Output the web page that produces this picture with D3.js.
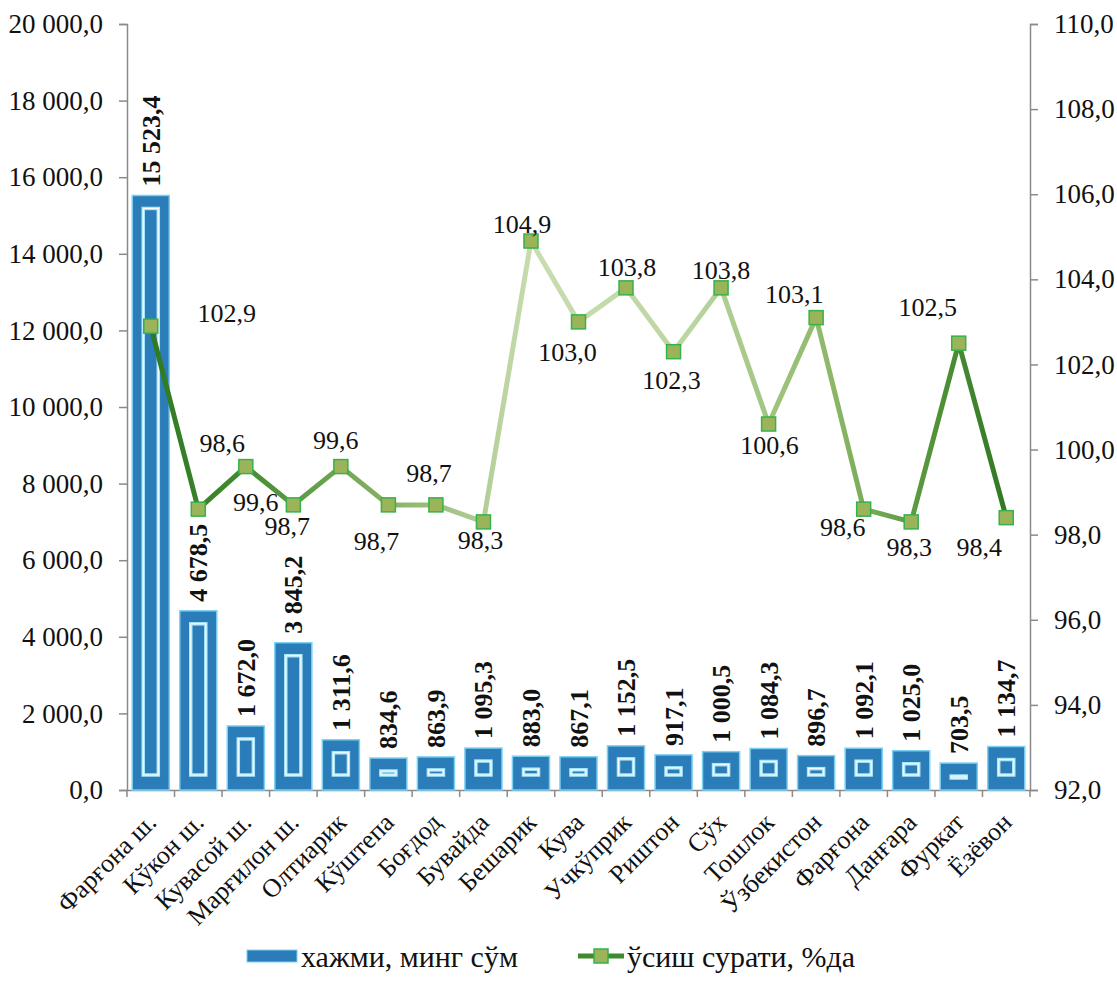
<!DOCTYPE html>
<html>
<head>
<meta charset="utf-8">
<script src="https://cdn.jsdelivr.net/npm/d3@7"></script>
</head>
<body>
<script>
// categories (districts) and the two series
const categories = ["Фарғона ш.", "Кўкон ш.", "Кувасой ш.", "Марғилон ш.", "Олтиарик", "Кўштепа",
  "Боғдод", "Бувайда", "Бешарик", "Кува", "Учкўприк", "Риштон", "Сўх", "Тошлок",
  "Ўзбекистон", "Фарғона", "Данғара", "Фуркат", "Ёзёвон"];
const volume = [15523.4, 4678.5, 1672.0, 3845.2, 1311.6, 834.6, 863.9, 1095.3, 883.0, 867.1,
  1152.5, 917.1, 1000.5, 1084.3, 896.7, 1092.1, 1025.0, 703.5, 1134.7];
const growth = [102.9, 98.6, 99.6, 98.7, 99.6, 98.7, 98.7, 98.3, 104.9, 103.0,
  103.8, 102.3, 103.8, 100.6, 103.1, 98.6, 98.3, 102.5, 98.4];
const leftTicks = [0, 2000, 4000, 6000, 8000, 10000, 12000, 14000, 16000, 18000, 20000];
const rightTicks = [92, 94, 96, 98, 100, 102, 104, 106, 108, 110];
const legendNames = ["хажми, минг сўм", "ўсиш сурати, %да"];

// label nudges for the growth labels (the original has them hand placed)
const labelShift = [[76, -13], [24, -66], [10, 35], [-6, 21], [-5, -27], [-12, 36], [-7, -32], [-3, 18],
  [-9, -17], [-11, 30], [1, -21], [-2, 28], [0, -18], [1, 21], [-22, -24], [-21, 18], [-2, 25], [-31, -36], [-27, 29]];

const width = 1117, height = 983;
const plot = { left: 127, right: 1030, top: 24, bottom: 790 };

// every text goes through this so the serif face sticks
const serif = sel => sel.attr("font-family", "Liberation Serif").style("font-family", "'Liberation Serif'").attr("fill", "#111");

// number format: space thousands, comma decimal
const fmt = v => {
  const s = v.toFixed(1).split(".");
  return s[0].replace(/\B(?=(\d{3})+(?!\d))/g, " ") + "," + s[1];
};

d3.select("body").style("margin", "0");
const svg = d3.select("body").append("svg")
  .attr("width", width)
  .attr("height", height);

const x = d3.scaleBand().domain(categories).range([plot.left, plot.right]).paddingInner(0.22).paddingOuter(0.11);
const yL = d3.scaleLinear().domain([0, 20000]).range([plot.bottom, plot.top]);
const yR = d3.scaleLinear().domain([92, 110]).range([plot.bottom, plot.top]);

// gradient for the line: dark at ends, pale in the middle
const defs = svg.append("defs");
const grad = defs.append("linearGradient").attr("id", "lineGrad")
  .attr("gradientUnits", "userSpaceOnUse")
  .attr("x1", plot.left).attr("x2", plot.right).attr("y1", 0).attr("y2", 0);
[[0, "#2a7420"], [0.12, "#3f8a2c"], [0.3, "#8cb56a"], [0.45, "#c8ddb0"], [0.62, "#bcd6a2"],
 [0.78, "#8cb868"], [0.9, "#4f9137"], [1, "#256f1b"]].forEach(d => {
  grad.append("stop").attr("offset", d[0]).attr("stop-color", d[1]);
});

// axes
const axisColor = "#8a8a8a";
const gL = svg.append("g").attr("transform", `translate(${plot.left},0)`)
  .call(d3.axisLeft(yL).tickValues(leftTicks).tickSize(8).tickPadding(16).tickFormat(fmt));
const gR = svg.append("g").attr("transform", `translate(${plot.right},0)`)
  .call(d3.axisRight(yR).tickValues(rightTicks).tickSize(8).tickPadding(16).tickFormat(fmt));
const gX = svg.append("g").attr("transform", `translate(0,${plot.bottom})`)
  .call(d3.axisBottom(x).tickSize(0).tickFormat(""));

[gL, gR, gX].forEach(g => {
  g.attr("font-family", "Liberation Serif").attr("font-size", 27);
  g.select(".domain").attr("stroke", axisColor).attr("stroke-width", 1.5);
  g.selectAll(".tick line").attr("stroke", axisColor).attr("stroke-width", 1.5);
  g.selectAll(".tick text").call(serif).attr("font-size", 27);
});

// x ticks at band boundaries
const step = x.step();
svg.append("g").selectAll("line")
  .data(d3.range(categories.length + 1))
  .join("line")
  .attr("x1", i => plot.left + i * step).attr("x2", i => plot.left + i * step)
  .attr("y1", plot.bottom).attr("y2", plot.bottom + 7)
  .attr("stroke", axisColor).attr("stroke-width", 1.5);

// category labels, rotated
svg.append("g").selectAll("text")
  .data(categories)
  .join("text")
  .attr("transform", d => `translate(${x(d) + x.bandwidth() / 2 + 7},${plot.bottom + 34}) rotate(-45)`)
  .attr("text-anchor", "end")
  .call(serif)
  .attr("font-size", 26)
  .text(d => d);

// bars
const bars = svg.append("g").selectAll("g")
  .data(volume)
  .join("g");
bars.append("rect")
  .attr("x", (d, i) => x(categories[i]))
  .attr("y", d => yL(d))
  .attr("width", x.bandwidth())
  .attr("height", d => plot.bottom - yL(d))
  .attr("fill", "#2a7db8")
  .attr("stroke", "#7cd0f2")
  .attr("stroke-width", 1.5);
// inner highlight frame
bars.append("rect")
  .attr("x", (d, i) => x(categories[i]) + 11)
  .attr("y", d => yL(d) + 13)
  .attr("width", x.bandwidth() - 22)
  .attr("height", d => Math.max(2, plot.bottom - yL(d) - 28))
  .attr("fill", "none")
  .attr("stroke", "#a9e6fb")
  .attr("stroke-width", 3.5);
bars.append("rect")
  .attr("x", (d, i) => x(categories[i]) + 11)
  .attr("y", d => yL(d) + 13)
  .attr("width", x.bandwidth() - 22)
  .attr("height", d => Math.max(2, plot.bottom - yL(d) - 28))
  .attr("fill", "none")
  .attr("stroke", "#ffffff")
  .attr("stroke-width", 1);

// bar value labels
svg.append("g").selectAll("text")
  .data(volume)
  .join("text")
  .attr("transform", (d, i) => `translate(${x(categories[i]) + x.bandwidth() / 2 + 9},${yL(d) - 9}) rotate(-90)`)
  .call(serif)
  .attr("font-size", 26)
  .attr("font-weight", "bold")
  .text(d => fmt(d));

// growth line
const cx = i => x(categories[i]) + x.bandwidth() / 2;
const line = d3.line().x((d, i) => cx(i)).y(d => yR(d));
svg.append("path")
  .datum(growth)
  .attr("d", line)
  .attr("fill", "none")
  .attr("stroke", "url(#lineGrad)")
  .attr("stroke-width", 5)
  .attr("stroke-linejoin", "round");

svg.append("g").selectAll("rect")
  .data(growth)
  .join("rect")
  .attr("x", (d, i) => cx(i) - 7)
  .attr("y", d => yR(d) - 7)
  .attr("width", 14).attr("height", 14)
  .attr("fill", "#9bb45a")
  .attr("stroke", "#35b24a")
  .attr("stroke-width", 1.5);

svg.append("g").selectAll("text")
  .data(growth)
  .join("text")
  .attr("x", (d, i) => cx(i) + labelShift[i][0])
  .attr("y", (d, i) => yR(d) + labelShift[i][1])
  .attr("dy", "0.35em")
  .attr("text-anchor", "middle")
  .call(serif)
  .attr("font-size", 26)
  .text(d => d.toFixed(1).replace(".", ","));

// legend
const leg = svg.append("g").attr("transform", "translate(0,956)");
leg.append("rect").attr("x", 247).attr("y", -6).attr("width", 50).attr("height", 12)
  .attr("fill", "#2a7db8").attr("stroke", "#7cd0f2").attr("stroke-width", 1);
leg.append("text").attr("x", 301).attr("y", 0).attr("dy", "0.35em")
  .call(serif).attr("font-size", 30).text(legendNames[0]);
leg.append("line").attr("x1", 578).attr("x2", 624).attr("y1", 0).attr("y2", 0)
  .attr("stroke", "#3f8a2c").attr("stroke-width", 5);
leg.append("rect").attr("x", 594).attr("y", -7).attr("width", 14).attr("height", 14)
  .attr("fill", "#9bb45a").attr("stroke", "#35b24a").attr("stroke-width", 1.5);
leg.append("text").attr("x", 627).attr("y", 0).attr("dy", "0.35em")
  .call(serif).attr("font-size", 30).text(legendNames[1]);
</script>
</body>
</html>
